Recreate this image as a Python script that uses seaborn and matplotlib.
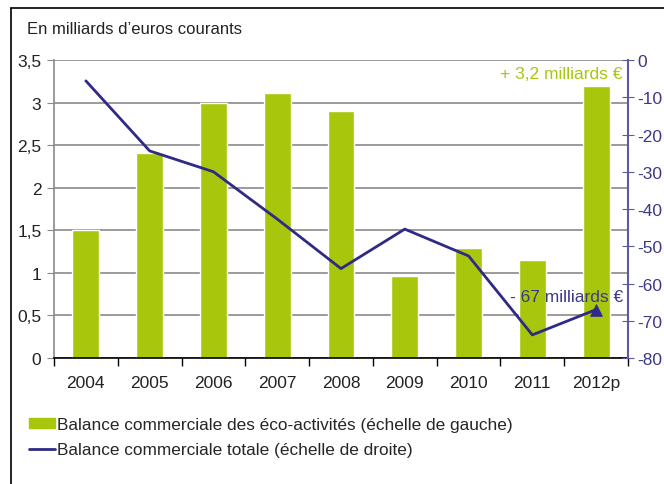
import matplotlib
matplotlib.use("Agg")
import matplotlib.pyplot as plt
import matplotlib.ticker as mticker
from matplotlib.lines import Line2D
from matplotlib.patches import Patch
import pandas as pd
import seaborn as sns

years = ["2004", "2005", "2006", "2007", "2008", "2009", "2010", "2011", "2012p"]
eco_balance = [1.50, 2.41, 3.00, 3.11, 2.90, 0.96, 1.29, 1.15, 3.20]
total_balance = [-5.6, -24.4, -30.0, -42.7, -56.0, -45.4, -52.6, -73.8, -67.0]

green = "#a8c60c"
navy = "#2e2a85"
purple_axis = "#5d5a9e"

sns.set_style("white")
plt.rcParams["font.family"] = ["Liberation Sans", "DejaVu Sans"]
plt.rcParams["axes.unicode_minus"] = False

df = pd.DataFrame({"year": years, "eco": eco_balance, "total": total_balance})

fig = plt.figure(figsize=(6.64, 4.85), dpi=100)
ax = fig.add_axes([0.0813, 0.2598, 0.8645, 0.6144])

sns.barplot(data=df, x="year", y="eco", color=green, width=0.42,
            saturation=1, ax=ax, zorder=2)
ax.set_ylim(0, 3.5)
ax.set_xlim(-0.5, 8.5)
ax.yaxis.set_major_locator(mticker.MultipleLocator(0.5))
ax.yaxis.set_major_formatter(mticker.FuncFormatter(
    lambda v, p: f"{v:g}".replace(".", ",")))
ax.grid(axis="y", color="#8a8a8a", linewidth=1.2, zorder=0)
ax.set_axisbelow(True)
ax.set_xlabel("")
ax.set_ylabel("")

for s in ["top", "right"]:
    ax.spines[s].set_visible(False)
ax.spines["left"].set_color("#8a8a8a")
ax.spines["left"].set_linewidth(1.2)
ax.spines["bottom"].set_color("black")
ax.spines["bottom"].set_linewidth(1.2)
ax.tick_params(axis="y", left=True, length=5, color="#8a8a8a",
               labelsize=12.5, pad=4, labelcolor="#222222")
ax.tick_params(axis="x", which="major", length=0, labelsize=12.5, pad=12,
               labelcolor="#222222")
ax.set_xticks([i - 0.5 for i in range(len(years) + 1)], minor=True)
ax.tick_params(axis="x", which="minor", bottom=True, length=6, width=1,
               color="black")

ax2 = ax.twinx()
sns.lineplot(x=years, y=total_balance, ax=ax2, color=navy, linewidth=2,
             sort=False, zorder=3)
sns.scatterplot(x=years[-1:], y=total_balance[-1:], ax=ax2, marker="^",
                s=70, color=navy, edgecolor=navy, zorder=4)
ax2.set_ylim(-80, 0)
ax2.set_xlim(-0.5, 8.5)
ax2.yaxis.set_major_locator(mticker.MultipleLocator(10))
ax2.yaxis.set_major_formatter(mticker.FuncFormatter(lambda v, p: f"{v:.0f}"))
for s in ["top", "left", "bottom"]:
    ax2.spines[s].set_visible(False)
ax2.spines["right"].set_color(purple_axis)
ax2.spines["right"].set_linewidth(1.5)
ax2.tick_params(axis="y", right=True, direction="inout", length=8,
                color=purple_axis, labelcolor="#3b3886", labelsize=12.5, pad=3)

ax2.text(8.42, -3.5, "+ 3,2 milliards \u20ac", color=green, fontsize=12.5,
         ha="right", va="center")
ax2.text(8.42, -63.6, "- 67 milliards \u20ac", color="#3b3886", fontsize=12.5,
         ha="right", va="center")

fig.text(27 / 664, 1 - 30 / 485, "En milliards d\u2019euros courants",
         fontsize=12, color="#222222", va="center", ha="left")

handles = [Patch(facecolor=green, edgecolor=green),
           Line2D([0], [0], color=navy, linewidth=2)]
labels = ["Balance commerciale des \u00e9co-activit\u00e9s (\u00e9chelle de gauche)",
          "Balance commerciale totale (\u00e9chelle de droite)"]
fig.legend(handles, labels, loc="upper left",
           bbox_to_anchor=(22 / 664, 1 - 411 / 485), frameon=False,
           fontsize=12.4, handlelength=1.5, handleheight=0.55,
           handletextpad=0.12, labelspacing=0.6, borderaxespad=0)

# outer frame
fig.add_artist(Line2D([11 / 664, 11 / 664], [0, 1 - 9 / 485],
                      color="black", linewidth=1.2, transform=fig.transFigure))
fig.add_artist(Line2D([11 / 664, 1], [1 - 9 / 485, 1 - 9 / 485],
                      color="black", linewidth=1.2, transform=fig.transFigure))

fig.savefig("out.png", dpi=100)
